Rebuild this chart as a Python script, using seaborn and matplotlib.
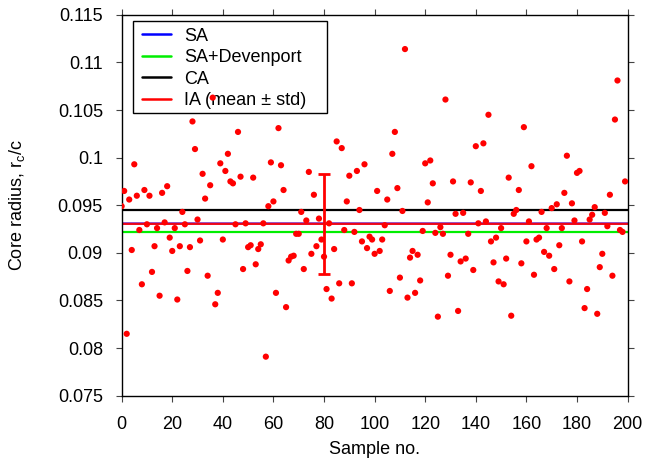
import numpy as np
import pandas as pd
import matplotlib
matplotlib.use("Agg")
import matplotlib.pyplot as plt
from matplotlib.lines import Line2D
from matplotlib.patches import Rectangle
from matplotlib.ticker import FuncFormatter
import seaborn as sns

# ---- data ----
core_radius = [
    0.0949, 0.0965, 0.0815, 0.0956, 0.0903, 0.0993, 0.0960, 0.0924, 0.0867, 0.0966,
    0.0930, 0.0960, 0.0880, 0.0907, 0.0926, 0.0855, 0.0963, 0.0932, 0.0970, 0.0916,
    0.0902, 0.0926, 0.0851, 0.0907, 0.0943, 0.0930, 0.0881, 0.0906, 0.1038, 0.1009,
    0.0935, 0.0913, 0.0983, 0.0957, 0.0876, 0.0971, 0.1063, 0.0846, 0.0858, 0.0994,
    0.0914, 0.0986, 0.1004, 0.0975, 0.0973, 0.0930, 0.1027, 0.0980, 0.0883, 0.0931,
    0.0906, 0.0908, 0.0979, 0.0888, 0.0904, 0.0909, 0.0931, 0.0791, 0.0949, 0.0995,
    0.0954, 0.0858, 0.1031, 0.0992, 0.0966, 0.0843, 0.0892, 0.0896, 0.0897, 0.0920,
    0.0920, 0.0943, 0.0883, 0.0934, 0.0985, 0.0899, 0.0961, 0.0907, 0.0936, 0.0914,
    0.0896, 0.0862, 0.0931, 0.0852, 0.0904, 0.1017, 0.0868, 0.1010, 0.0924, 0.0954,
    0.0981, 0.0868, 0.0922, 0.0986, 0.0945, 0.0912, 0.0993, 0.0905, 0.0917, 0.0914,
    0.0899, 0.0965, 0.0902, 0.0914, 0.0929, 0.0956, 0.0860, 0.1004, 0.1027, 0.0968,
    0.0874, 0.0944, 0.1114, 0.0853, 0.0895, 0.0902, 0.0858, 0.0898, 0.0871, 0.0923,
    0.0994, 0.0953, 0.0997, 0.0973, 0.0921, 0.0833, 0.0927, 0.0920, 0.1061, 0.0876,
    0.0898, 0.0975, 0.0941, 0.0839, 0.0891, 0.0942, 0.0894, 0.0920, 0.0974, 0.0882,
    0.1012, 0.0931, 0.0965, 0.1015, 0.0933, 0.1045, 0.0912, 0.0890, 0.0916, 0.0870,
    0.0926, 0.0867, 0.0894, 0.0979, 0.0834, 0.0941, 0.0945, 0.0966, 0.0889, 0.1032,
    0.0912, 0.0933, 0.0991, 0.0877, 0.0914, 0.0916, 0.0943, 0.0901, 0.0926, 0.0897,
    0.0947, 0.0883, 0.0951, 0.0908, 0.0926, 0.0963, 0.1002, 0.0870, 0.0952, 0.0934,
    0.0984, 0.0986, 0.0912, 0.0842, 0.0862, 0.0935, 0.0940, 0.0948, 0.0836, 0.0885,
    0.0899, 0.0942, 0.0928, 0.0961, 0.0876, 0.1040, 0.1081, 0.0924, 0.0922, 0.0975,
]
sample_no = list(range(len(core_radius)))

sa_value = 0.09318
sa_dev_value = 0.0922
ca_value = 0.0945
ia_mean = 0.09305
ia_std = 0.00525
ia_errorbar_x = 80

line_labels = ["SA", "SA+Devenport", "CA", "IA (mean \u00b1 std)"]
line_colors = ["#0000ff", "#00ee00", "#000000", "#ff0000"]

xticks = list(range(0, 201, 20))
yticks = [0.075, 0.08, 0.085, 0.09, 0.095, 0.1, 0.105, 0.11, 0.115]

# ---- plot ----
sns.set_style("ticks")
plt.rcParams["font.family"] = ["Liberation Sans", "DejaVu Sans"]
plt.rcParams["mathtext.fontset"] = "custom"
plt.rcParams["mathtext.rm"] = "Liberation Sans"
plt.rcParams["mathtext.it"] = "Liberation Sans"
for k in ["text.color", "axes.labelcolor", "xtick.color", "ytick.color"]:
    plt.rcParams[k] = "black"

FS = 13

fig = plt.figure(figsize=(6.47, 4.62), dpi=100)
ax = fig.add_axes([0.188, 0.1435, 0.782, 0.8245])

df = pd.DataFrame({"sample": sample_no, "rc": core_radius})

ax.axhline(ca_value, color=line_colors[2], lw=1.6, zorder=2)
ax.axhline(sa_dev_value, color=line_colors[1], lw=1.6, zorder=2)
ax.axhline(sa_value, color="#7a1fb0", lw=1.8, zorder=2)
ax.axhline(ia_mean, color=line_colors[3], lw=1.2, zorder=2)

sns.scatterplot(data=df, x="sample", y="rc", ax=ax, color="#ff0000",
                s=20, edgecolor="none", linewidth=0, legend=False, zorder=4)

ax.errorbar([ia_errorbar_x], [ia_mean], yerr=[ia_std], color="#ff0000",
            lw=2, capsize=4, capthick=2, fmt="none", zorder=5)

ax.set_xlim(0, 200)
ax.set_ylim(0.075, 0.115)
ax.set_xticks(xticks)
ax.set_yticks(yticks)
ax.yaxis.set_major_formatter(FuncFormatter(lambda v, p: f"{v:g}"))
ax.tick_params(direction="out", top=True, right=True, labelsize=FS,
               length=4.5, width=0.8, color="#444444", labelcolor="black")
ax.tick_params(axis="x", pad=10)
ax.tick_params(axis="y", pad=9)
for sp in ax.spines.values():
    sp.set_linewidth(1.0)
    sp.set_color("black")

ax.set_xlabel("Sample no.", fontsize=FS, labelpad=6)
ax.set_ylabel("Core radius, r$_c$/c", fontsize=FS, labelpad=22)

# legend box (drawn beneath the data points, as in the reference)
ax.add_patch(Rectangle((0.0217, 0.742), 0.3835, 0.241, transform=ax.transAxes,
                       facecolor="white", edgecolor="black", lw=1.0,
                       zorder=3))
handles = [Line2D([0], [0], color=c, lw=1.8) for c in line_colors]
leg = ax.legend(handles, line_labels, loc="upper left", fontsize=FS,
                frameon=False, borderpad=0.35, labelspacing=0.25,
                handlelength=1.6, handletextpad=0.75, borderaxespad=0,
                bbox_to_anchor=(0.0276, 0.983))
leg.set_zorder(3.5)

fig.savefig("out.png", dpi=100)
